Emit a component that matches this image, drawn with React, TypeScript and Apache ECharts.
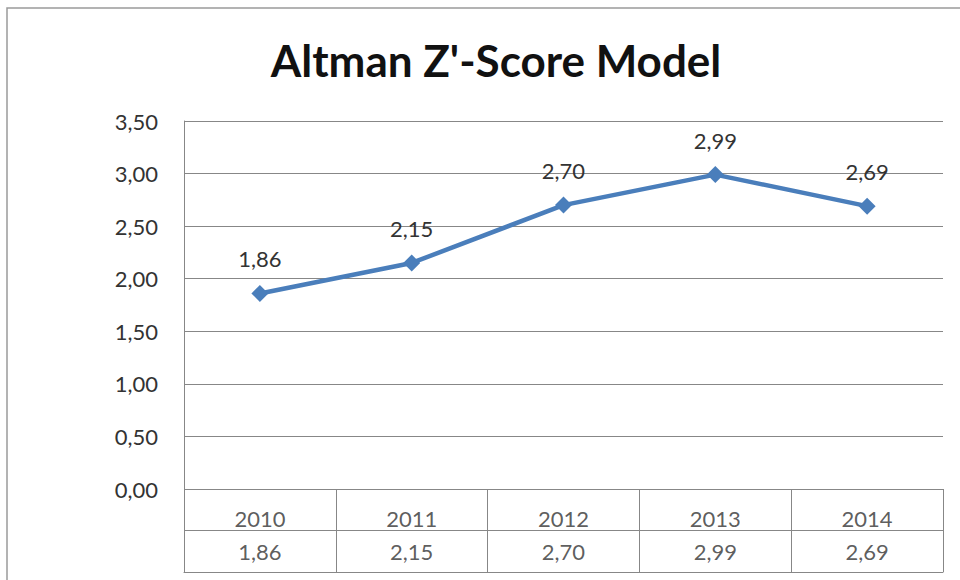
import React, { useEffect, useRef } from "react";
import * as echarts from "echarts";

const years = ["2010", "2011", "2012", "2013", "2014"];
const scores = [1.86, 2.15, 2.7, 2.99, 2.69];
const yTicks = { min: 0, max: 3.5, interval: 0.5 };

const fmt = (v: number) => v.toFixed(2).replace(".", ",");

export default function App() {
  const ref = useRef<HTMLDivElement>(null);
  useEffect(() => {
    const chart = echarts.init(ref.current!, null, { renderer: "svg" });
    const gridColor = "#878787";
    const textColor = "#333333";
    const font = "Lato, 'Open Sans', sans-serif";
    const fs = 22;
    chart.setOption({
      animation: false,
      backgroundColor: "#ffffff",
      title: {
        text: "Altman Z'-Score Model",
        left: 491,
        top: 33,
        textAlign: "center",
        textStyle: { fontFamily: font, fontWeight: "bold", fontSize: 44, color: "#111111" },
      },
      graphic: [
        {
          type: "rect",
          shape: { x: 7, y: 8, width: 1000, height: 1000 },
          style: { fill: "none", stroke: "#9a9a9a", lineWidth: 1.5 },
          silent: true,
        },
      ],
      grid: [
        { left: 184, top: 121, right: 17, height: 368 },
        { left: 184, top: 489, right: 17, height: 83 },
      ],
      xAxis: [
        {
          gridIndex: 0,
          type: "category",
          data: years,
          boundaryGap: true,
          axisLine: { show: false },
          axisTick: { show: false },
          axisLabel: { show: false },
          splitLine: { show: false },
        },
        {
          gridIndex: 1,
          type: "category",
          data: years,
          boundaryGap: true,
          axisLine: { show: true, lineStyle: { color: gridColor, width: 1 } },
          axisTick: { show: false },
          axisLabel: { show: false },
          splitLine: { show: true, lineStyle: { color: gridColor, width: 1 } },
        },
      ],
      yAxis: [
        {
          gridIndex: 0,
          type: "value",
          min: yTicks.min,
          max: yTicks.max,
          interval: yTicks.interval,
          axisLine: { show: true, lineStyle: { color: gridColor, width: 1 } },
          axisTick: { show: false },
          axisLabel: {
            formatter: (v: number) => fmt(v),
            fontFamily: font,
            fontSize: fs,
            color: textColor,
            margin: 26,
          },
          splitLine: { show: true, lineStyle: { color: gridColor, width: 1 } },
        },
        {
          gridIndex: 1,
          type: "value",
          min: 0,
          max: 2,
          interval: 1,
          axisLine: { show: true, lineStyle: { color: gridColor, width: 1 } },
          axisTick: { show: false },
          axisLabel: { show: false },
          splitLine: { show: true, lineStyle: { color: gridColor, width: 1 } },
        },
      ],
      series: [
        {
          type: "line",
          xAxisIndex: 0,
          yAxisIndex: 0,
          data: scores,
          symbol: "diamond",
          symbolSize: 17,
          itemStyle: { color: "#4A7EBB" },
          lineStyle: { color: "#4A7EBB", width: 4.5 },
          label: {
            show: true,
            position: "top",
            distance: 15,
            formatter: (p: any) => fmt(p.value),
            fontFamily: font,
            fontSize: fs,
            color: textColor,
          },
        },
        {
          type: "scatter",
          xAxisIndex: 1,
          yAxisIndex: 1,
          data: years.map((y) => [y, 1.3]),
          symbolSize: 0,
          silent: true,
          label: {
            show: true,
            position: "inside",
            formatter: (p: any) => p.value[0],
            fontFamily: font,
            fontSize: fs,
            color: textColor,
          },
        },
        {
          type: "scatter",
          xAxisIndex: 1,
          yAxisIndex: 1,
          data: years.map((y, i) => [y, 0.5, scores[i]]),
          symbolSize: 0,
          silent: true,
          label: {
            show: true,
            position: "inside",
            formatter: (p: any) => fmt(p.value[2]),
            fontFamily: font,
            fontSize: fs,
            color: textColor,
          },
        },
      ],
    });
    return () => chart.dispose();
  }, []);
  return (
    <div
      ref={ref}
      style={{ position: "fixed", left: 0, top: 0, width: 960, height: 580 }}
    />
  );
}
